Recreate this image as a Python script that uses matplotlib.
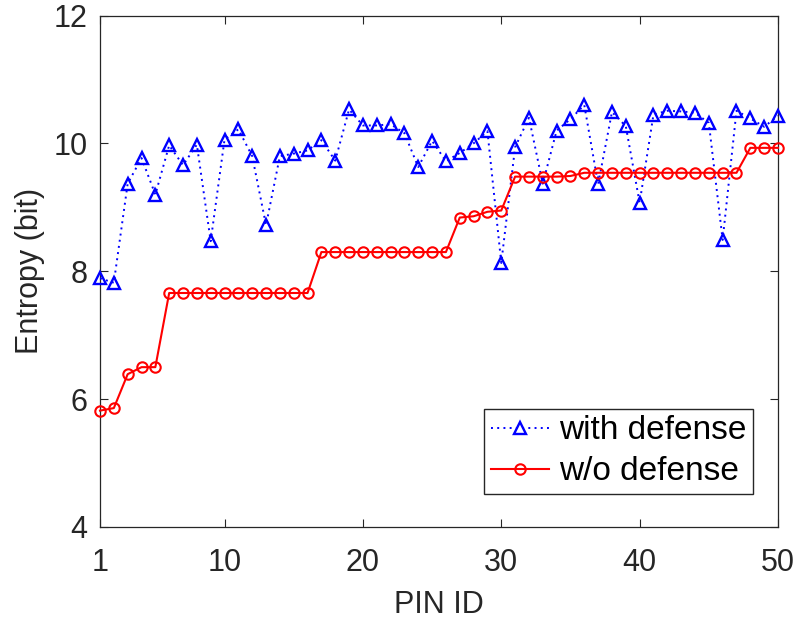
import matplotlib
matplotlib.use("Agg")
import matplotlib.pyplot as plt

pin_id = list(range(1, 51))
with_defense = [7.89, 7.82, 9.37, 9.77, 9.20, 9.97, 9.66, 9.98, 8.47, 10.06,
                10.22, 9.80, 8.72, 9.80, 9.84, 9.89, 10.05, 9.73, 10.53, 10.28,
                10.28, 10.30, 10.16, 9.63, 10.04, 9.72, 9.85, 10.00, 10.19, 8.13,
                9.94, 10.40, 9.37, 10.20, 10.38, 10.60, 9.36, 10.49, 10.27, 9.07,
                10.45, 10.51, 10.50, 10.48, 10.32, 8.49, 10.51, 10.39, 10.26, 10.43]
without_defense = [5.82, 5.86, 6.39, 6.50, 6.50, 7.66, 7.66, 7.66, 7.66, 7.66,
                   7.66, 7.66, 7.66, 7.66, 7.66, 7.66, 8.30, 8.30, 8.30, 8.30,
                   8.30, 8.30, 8.30, 8.30, 8.30, 8.30, 8.84, 8.86, 8.93, 8.95,
                   9.48, 9.48, 9.48, 9.48, 9.49, 9.54, 9.54, 9.54, 9.54, 9.54,
                   9.54, 9.54, 9.54, 9.54, 9.54, 9.54, 9.54, 9.93, 9.93, 9.93]
xticks = [1, 10, 20, 30, 40, 50]
yticks = [4, 6, 8, 10, 12]

plt.rcParams['font.family'] = ['Liberation Sans', 'DejaVu Sans']
fig = plt.figure(figsize=(7.97, 6.22), dpi=100)
ax = fig.add_axes([100/797, 1-527/622, 678/797, 511.5/622])

ax.plot(pin_id, with_defense, linestyle=(0, (1, 2.2)), color='#0000ff', linewidth=1.4,
        marker='^', markersize=9, markerfacecolor='none', markeredgewidth=1.7,
        markeredgecolor='#0000ff', label='with defense', clip_on=False, zorder=3)
ax.plot(pin_id, without_defense, linestyle='-', color='#ff0000', linewidth=1.5,
        marker='o', markersize=7.5, markerfacecolor='none', markeredgewidth=1.5,
        markeredgecolor='#ff0000', label='w/o defense', clip_on=False, zorder=3)

ax.set_xlim(1, 50)
ax.set_ylim(4, 12)
ax.set_xticks(xticks)
ax.set_yticks(yticks)
ax.tick_params(direction='in', length=6, width=0.8, colors='#262626', labelsize=22,
               top=True, right=True)
ax.tick_params(axis='x', pad=15)
ax.tick_params(axis='y', pad=9)
for s in ax.spines.values():
    s.set_color('#262626')
    s.set_linewidth(0.9)
ax.set_xlabel('PIN ID', fontsize=22, color='#262626', labelpad=9)
ax.set_ylabel('Entropy (bit)', fontsize=22, color='#262626', labelpad=6)

leg = ax.legend(loc='lower right', bbox_to_anchor=(0.963, 0.0645), borderaxespad=0,
                fontsize=24, fancybox=False, framealpha=1, edgecolor='#262626',
                handlelength=1.75, handletextpad=0.3, borderpad=0.2, labelspacing=0.3)
leg.get_frame().set_linewidth(1.0)
leg.set_zorder(5)

fig.savefig('out.png', dpi=100)
